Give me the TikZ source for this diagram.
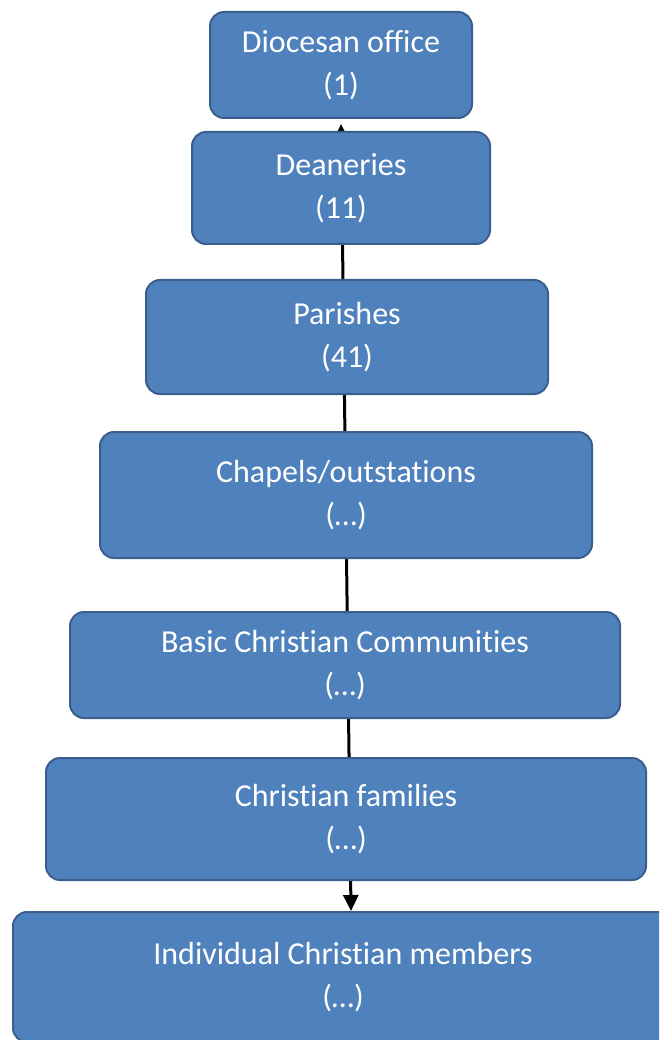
\documentclass[tikz,border=0pt]{standalone}
\usepackage{fontspec}
\setmainfont[Ligatures=NoCommon]{Carlito}
\usetikzlibrary{calc,arrows.meta,backgrounds}
\definecolor{boxfill}{HTML}{4F81BD}
\definecolor{boxline}{HTML}{3A5F8C}

\begin{document}
\begin{tikzpicture}[x=1pt,y=-1pt,
  level/.style={draw=boxline, line width=2pt, fill=boxfill, rounded corners=14pt,
    text=white, align=center, inner sep=0pt,
    font=\fontsize{32}{43}\selectfont},
  link/.style={line width=3pt, {Triangle[length=16pt,width=15pt]}-{Triangle[length=16pt,width=15pt]}}]
\useasboundingbox (0,0) rectangle (659,1040);
\clip (0,0) rectangle (659,1040);
% Levels of the diocese
\node[level, minimum width=262pt, minimum height=106pt] (dio) at (341,65) {Diocesan office\\(1)};
\node[level, minimum width=298pt, minimum height=112pt] (dea) at (341,188) {Deaneries\\(11)};
\node[level, minimum width=402pt, minimum height=114pt] (par) at (347,337) {Parishes\\(41)};
\node[level, minimum width=492pt, minimum height=126pt] (cha) at (346,495) {Chapels/outstations\\(\dots)};
\node[level, minimum width=550pt, minimum height=106pt] (bcc) at (345,665) {Basic Christian Communities\\(\dots)};
\node[level, minimum width=600pt, minimum height=122pt] (fam) at (346,819) {Christian families\\(\dots)};
\node[level, minimum width=660pt, minimum height=130pt] (ind) at (343,977) {Individual Christian members\\(\dots)};
% Line behind the boxes
\begin{pgfonlayer}{background}
\draw[link] ($(dio.south)+(0,5)$) -- ($(ind.north)+(8,0)$);
\end{pgfonlayer}
\end{tikzpicture}
\end{document}
